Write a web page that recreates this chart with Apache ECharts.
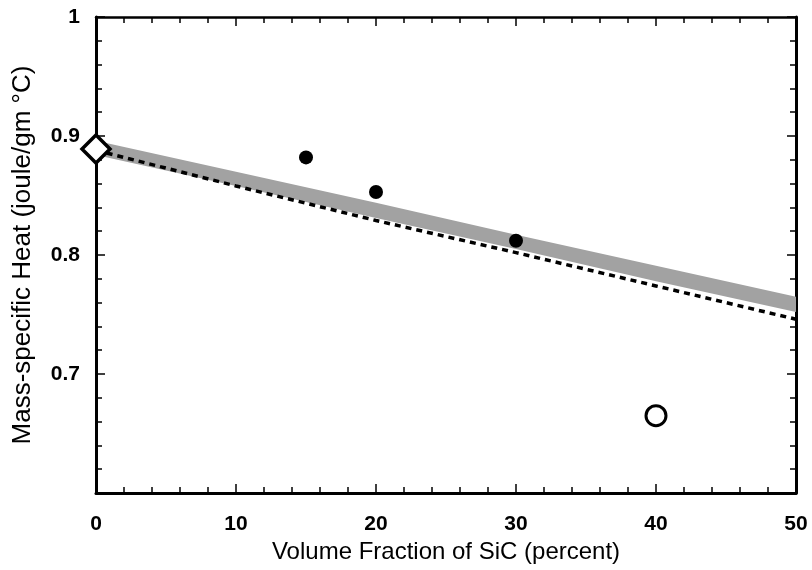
<!DOCTYPE html>
<html><head><meta charset="utf-8">
<script src="https://cdn.jsdelivr.net/npm/echarts@6/dist/echarts.min.js"></script>
<style>html,body{margin:0;padding:0;background:#fff}#c{width:812px;height:570px}</style>
</head><body><div id="c"></div>
<script>
// Data
const bandX = [0, 10, 20, 30, 40, 50];
const bandUpper = [0.896, 0.870, 0.844, 0.817, 0.791, 0.765];
const bandLower = [0.884, 0.858, 0.831, 0.805, 0.778, 0.752];
const dashX = [0, 10, 20, 30, 40, 50];
const dashY = [0.888, 0.858, 0.829, 0.802, 0.774, 0.746];
const matrixPoint = [[0, 0.889]];
const filledX = [15, 20, 30];
const filledY = [0.882, 0.853, 0.812];
const openPoint = [[40, 0.665]];
const yTicks = [0.6, 0.7, 0.8, 0.9, 1];

const chart = echarts.init(document.getElementById('c'));
const FF = 'Liberation Sans, Arial, Helvetica, sans-serif';
const tickFont = {fontFamily: FF, fontSize: 21, fontWeight: 'bold', color: '#000'};
const tickSty = {color: '#000', width: 1.5};
chart.setOption({
  animation: false,
  backgroundColor: '#fff',
  grid: {left: 96, right: 16, top: 17, bottom: 77},
  xAxis: [{
    type: 'value', min: 0, max: 50, interval: 10,
    name: 'Volume Fraction of SiC (percent)', nameLocation: 'middle', nameGap: 47,
    nameTextStyle: {fontFamily: FF, fontSize: 24, color: '#000'},
    axisLine: {lineStyle: {color: '#000', width: 3}},
    axisTick: {inside: true, length: 9, lineStyle: tickSty},
    minorTick: {show: true, splitNumber: 5, length: 6, lineStyle: tickSty},
    axisLabel: Object.assign({margin: 21}, tickFont),
    splitLine: {show: false}
  }, {
    type: 'value', min: 0, max: 50, interval: 10, position: 'top',
    axisLine: {onZero: false, lineStyle: {color: '#000', width: 2.5}},
    axisTick: {inside: true, length: 9, lineStyle: tickSty},
    minorTick: {show: true, splitNumber: 5, length: 6, lineStyle: tickSty},
    axisLabel: {show: false}, splitLine: {show: false}
  }],
  yAxis: [{
    type: 'value', min: yTicks[0], max: yTicks[yTicks.length - 1], interval: 0.1,
    name: 'Mass-specific Heat (joule/gm °C)', nameLocation: 'middle', nameGap: 60,
    nameTextStyle: {fontFamily: FF, fontSize: 26, color: '#000'},
    axisLine: {lineStyle: {color: '#000', width: 3}},
    axisTick: {inside: true, length: 9, lineStyle: tickSty},
    minorTick: {show: true, splitNumber: 5, length: 6, lineStyle: tickSty},
    axisLabel: Object.assign({margin: 16, formatter: v => (Math.abs(v - 0.6) < 1e-6 ? '' : (Math.abs(v - 1) < 1e-6 ? '1' : v.toFixed(1)))}, tickFont),
    splitLine: {show: false}
  }, {
    type: 'value', min: yTicks[0], max: yTicks[yTicks.length - 1], interval: 0.1, position: 'right',
    axisLine: {show: true, onZero: false, lineStyle: {color: '#000', width: 3}},
    axisTick: {inside: true, length: 9, lineStyle: tickSty},
    minorTick: {show: true, splitNumber: 5, length: 6, lineStyle: tickSty},
    axisLabel: {show: false}, splitLine: {show: false}
  }],
  series: [
    {type: 'custom', data: [0], z: 1, silent: true,
     renderItem: (params, api) => {
       const pts = [];
       bandX.forEach((x, i) => pts.push(api.coord([x, bandUpper[i]])));
       for (let i = bandX.length - 1; i >= 0; i--) pts.push(api.coord([bandX[i], bandLower[i]]));
       return {type: 'polygon', shape: {points: pts}, style: {fill: '#a2a2a2'}};
     }},
    {type: 'line', data: dashX.map((x, i) => [x, dashY[i]]), symbol: 'none',
     lineStyle: {color: '#000', width: 3.5, type: [6, 5]}, z: 2},
    {type: 'scatter', data: matrixPoint, symbol: 'diamond', symbolSize: [28, 28],
     itemStyle: {color: '#fff', borderColor: '#000', borderWidth: 3.5, opacity: 1}, z: 3},
    {type: 'scatter', data: filledX.map((x, i) => [x, filledY[i]]), symbol: 'circle', symbolSize: 14,
     itemStyle: {color: '#000', opacity: 1}, z: 3},
    {type: 'scatter', data: openPoint, symbol: 'circle', symbolSize: 20,
     itemStyle: {color: '#fff', borderColor: '#000', borderWidth: 3, opacity: 1}, z: 3}
  ]
});
</script></body></html>
